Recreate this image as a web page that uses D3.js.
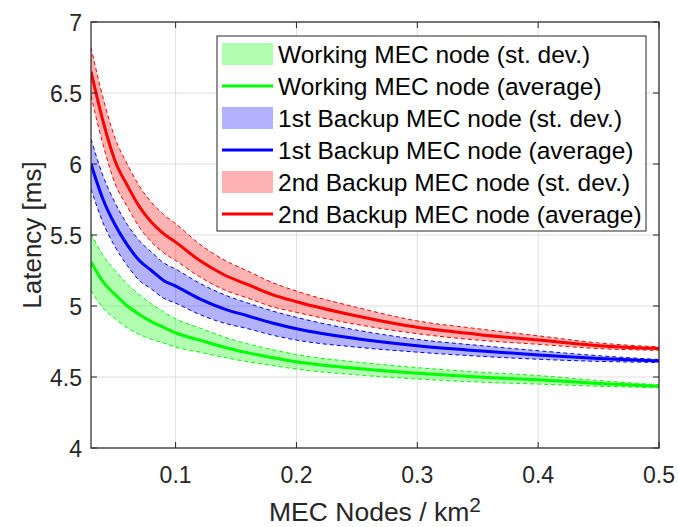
<!DOCTYPE html>
<html><head><meta charset="utf-8">
<script src="https://cdn.jsdelivr.net/npm/d3@7"></script>
<style>html,body{margin:0;padding:0;background:#fff;}svg{display:block;font-family:"Liberation Sans",Arial,Helvetica,sans-serif;}</style>
</head><body>
<svg id="chart" width="678" height="527"></svg>
<script>
const xs = [0.03,0.04,0.05,0.06,0.07,0.08,0.09,0.1,0.12,0.14,0.16,0.18,0.2,0.25,0.3,0.35,0.4,0.45,0.5];
const workingAvg = [5.31,5.17,5.08,5.00,4.94,4.89,4.85,4.81,4.76,4.71,4.67,4.637,4.607,4.56,4.526,4.50,4.48,4.455,4.435];
const workingSd  = [0.20,0.185,0.17,0.155,0.14,0.125,0.11,0.10,0.085,0.072,0.063,0.056,0.051,0.045,0.04,0.035,0.03,0.02,0.01];
const backup1Avg = [6.00,5.75,5.57,5.43,5.32,5.25,5.18,5.14,5.05,4.98,4.93,4.88,4.84,4.77,4.72,4.685,4.655,4.63,4.613];
const backup1Sd  = [0.175,0.165,0.155,0.145,0.14,0.13,0.125,0.12,0.11,0.10,0.09,0.085,0.08,0.06,0.045,0.038,0.03,0.02,0.01];
const backup2Avg = [6.65,6.30,6.02,5.85,5.70,5.59,5.51,5.45,5.32,5.22,5.15,5.08,5.03,4.93,4.85,4.80,4.76,4.72,4.70];
const backup2Sd  = [0.17,0.165,0.16,0.15,0.145,0.14,0.135,0.13,0.115,0.105,0.095,0.085,0.075,0.06,0.045,0.04,0.03,0.02,0.012];
const xTicks = [0.1,0.2,0.3,0.4,0.5];
const yTicks = [4,4.5,5,5.5,6,6.5,7];
const seriesNames = ["Working MEC node","1st Backup MEC node","2nd Backup MEC node"];
const seriesColors = ["#00ff00","#0000ff","#ff0000"];

const svg = d3.select("#chart");
const L=91, T=22, R=659, B=448;
const x = d3.scaleLinear().domain([0.03,0.5]).range([L,R]);
const y = d3.scaleLinear().domain([4,7]).range([B,T]);
const axisCol = "#262626";

// grid
const g = svg.append("g");
g.selectAll(".gx").data(xTicks).join("line").attr("x1",d=>x(d)).attr("x2",d=>x(d)).attr("y1",T).attr("y2",B)
 .attr("stroke","#e0e0e0").attr("stroke-width",1);
g.selectAll(".gy").data(yTicks).join("line").attr("x1",L).attr("x2",R).attr("y1",d=>y(d)).attr("y2",d=>y(d))
 .attr("stroke","#e0e0e0").attr("stroke-width",1);

const data = [
  {avg:workingAvg, sd:workingSd},
  {avg:backup1Avg, sd:backup1Sd},
  {avg:backup2Avg, sd:backup2Sd}
];
svg.append("clipPath").attr("id","clip").append("rect").attr("x",L).attr("y",T).attr("width",R-L).attr("height",B-T);
const plot = svg.append("g").attr("clip-path","url(#clip)");
const area = d3.area().x((d,i)=>x(xs[i])).y0(d=>y(d[0]-d[1])).y1(d=>y(d[0]+d[1])).curve(d3.curveMonotoneX);
const line = d3.line().x((d,i)=>x(xs[i])).y(d=>y(d)).curve(d3.curveMonotoneX);
data.forEach((s,k)=>{
  const pts = s.avg.map((v,i)=>[v,s.sd[i]]);
  plot.append("path").attr("d",area(pts)).attr("fill",seriesColors[k]).attr("fill-opacity",0.3).attr("stroke","none");
});
data.forEach((s,k)=>{
  const up = s.avg.map((v,i)=>v+s.sd[i]);
  const lo = s.avg.map((v,i)=>v-s.sd[i]);
  [up,lo].forEach(arr=>plot.append("path").attr("d",line(arr)).attr("fill","none").attr("stroke",seriesColors[k])
    .attr("stroke-width",1).attr("stroke-dasharray","4,3"));
});
data.forEach((s,k)=>{
  plot.append("path").attr("d",line(s.avg)).attr("fill","none").attr("stroke",seriesColors[k]).attr("stroke-width",3);
});

// axes box & ticks
const ax = svg.append("g");
ax.append("rect").attr("x",L).attr("y",T).attr("width",R-L).attr("height",B-T).attr("fill","none").attr("stroke",axisCol).attr("stroke-width",1.2);
const tl=6;
ax.selectAll(".txb").data(xTicks).join("line").attr("x1",d=>x(d)).attr("x2",d=>x(d)).attr("y1",B).attr("y2",B-tl).attr("stroke",axisCol);
ax.selectAll(".txt").data(xTicks).join("line").attr("x1",d=>x(d)).attr("x2",d=>x(d)).attr("y1",T).attr("y2",T+tl).attr("stroke",axisCol);
ax.selectAll(".tyl").data(yTicks).join("line").attr("x1",L).attr("x2",L+tl).attr("y1",d=>y(d)).attr("y2",d=>y(d)).attr("stroke",axisCol);
ax.selectAll(".tyr").data(yTicks).join("line").attr("x1",R).attr("x2",R-tl).attr("y1",d=>y(d)).attr("y2",d=>y(d)).attr("stroke",axisCol);
ax.selectAll(".lx").data(xTicks).join("text").attr("x",d=>x(d)).attr("y",483).attr("text-anchor","middle")
 .attr("font-size",23).attr("fill",axisCol).text(d=>d3.format(".1f")(d));
ax.selectAll(".ly").data(yTicks).join("text").attr("x",82).attr("y",d=>y(d)+8.5).attr("text-anchor","end")
 .attr("font-size",23).attr("fill",axisCol).text(d=>d3.format("~g")(d));

// axis labels
const xl = svg.append("text").attr("x",375).attr("y",521).attr("text-anchor","middle").attr("font-size",26.5).attr("fill",axisCol);
xl.append("tspan").text("MEC Nodes / km");
xl.append("tspan").attr("font-size",21).attr("dy",-9).text("2");
svg.append("text").attr("transform","translate(41,235) rotate(-90)").attr("text-anchor","middle").attr("font-size",26).attr("fill",axisCol).text("Latency [ms]");

// legend
const lg = svg.append("g");
lg.append("rect").attr("x",217).attr("y",36).attr("width",429).attr("height",195).attr("fill","#fff").attr("stroke",axisCol).attr("stroke-width",1);
const entries = [];
seriesNames.forEach((n,k)=>{ entries.push({name:n+" (st. dev.)",k,type:"patch"}); entries.push({name:n+" (average)",k,type:"line"}); });
entries.forEach((e,i)=>{
  const cy = 54 + i*32;
  if(e.type==="patch") lg.append("rect").attr("x",222).attr("y",cy-11).attr("width",51).attr("height",22).attr("fill",seriesColors[e.k]).attr("fill-opacity",0.3);
  else lg.append("line").attr("x1",222).attr("x2",273).attr("y1",cy).attr("y2",cy).attr("stroke",seriesColors[e.k]).attr("stroke-width",3);
  lg.append("text").attr("x",278).attr("y",cy+8.5).attr("font-size",24.5).attr("fill","#000").text(e.name);
});
</script>
</body></html>
